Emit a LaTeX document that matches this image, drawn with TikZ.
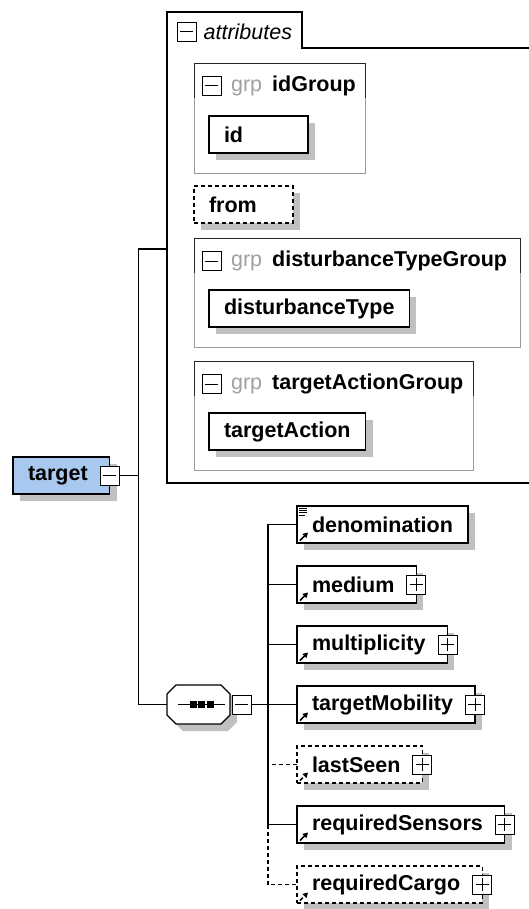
\documentclass[tikz,border=0pt]{standalone}
\usepackage{fontspec}
\setmainfont{Liberation Sans}
\usetikzlibrary{arrows.meta,positioning,calc,shadows}
\definecolor{SchemaBlue}{HTML}{A8C8F0}
\definecolor{SchemaShadow}{HTML}{C0C0C0}
\definecolor{SchemaFrame}{HTML}{9A9A9A}
\definecolor{SchemaGrp}{HTML}{A0A0A0}

\begin{document}
\begin{tikzpicture}[x=1pt,y=-1pt,
  txt/.style={font=\fontsize{21.5}{24}\selectfont,inner sep=0pt},
  conn/.style={draw=black,line width=1.2pt},
  elem/.style={font=\fontsize{21.5}{24}\selectfont\bfseries,draw=black,line width=1.2pt,fill=white,minimum height=37pt,inner xsep=15pt,inner ysep=0pt,outer sep=0pt,anchor=west,
    drop shadow={opacity=1,fill=SchemaShadow,shadow xshift=7pt,shadow yshift=-7pt}},
  optional/.style={dash pattern=on 4pt off 3pt},
  minw/.style={text width=69pt},
  more/.style={execute at end node={\hspace{7pt}}},
  refel/.style={elem,path picture={\draw[line width=1.6pt,-{Triangle[length=5pt,width=5.5pt]}] ([xshift=3pt,yshift=2.5pt]path picture bounding box.south west) -- ++(8pt,8pt);}},
  plusbox/.style={draw=black,line width=0.9pt,fill=white,minimum size=19pt,inner sep=0pt,
    path picture={\draw[line width=0.9pt] ([xshift=3pt]path picture bounding box.west) -- ([xshift=-3pt]path picture bounding box.east) ([yshift=-3pt]path picture bounding box.north) -- ([yshift=3pt]path picture bounding box.south);}},
  minusbox/.style={draw=black,line width=0.9pt,fill=white,minimum size=19pt,inner sep=0pt,
    path picture={\draw[line width=0.9pt] ([xshift=3pt]path picture bounding box.west) -- ([xshift=-3pt]path picture bounding box.east);}},
  grpbox/.style={draw=SchemaFrame,line width=0.9pt,anchor=north west,inner sep=0pt},
  grpedge/.style={draw=black!85,line width=0.9pt},
  grphead/.style={txt,anchor=west}
]
\useasboundingbox (0,0) rectangle (529,909);

% attributes frame
\draw[conn] (535,48) -- (302,48) -- (302,12) -- (167,12) -- (167,483) -- (535,483);
\coordinate (attr-in) at (167,249);
\node[minusbox] (attr-m) at (186.5,31.5) {};
\node[txt,font=\fontsize{21.5}{24}\selectfont\itshape,right=7pt of attr-m] (attr-t) {attributes};

% idGroup
\node[grpbox,minimum width=171pt,minimum height=110pt] (idGrp) at (194,63) {};
\draw[grpedge] ([yshift=-35pt]idGrp.north west) |- (idGrp.north east) -- ([yshift=-35pt]idGrp.north east);
\node[minusbox,anchor=north west] (idGrp-m) at ([xshift=8pt,yshift=-13pt]idGrp.north west) {};
\node[grphead,right=9pt of idGrp-m] (idGrp-t) {\textcolor{SchemaGrp}{grp}\hspace{10pt}\textbf{idGroup}};
\node[elem,minw,anchor=north west] (id) at ([xshift=15pt,yshift=-53pt]idGrp.north west) {id};

\node[elem,minw,optional,anchor=north west] (from) at (194,186) {from};

% disturbanceTypeGroup
\node[grpbox,minimum width=326pt,minimum height=109pt] (distGrp) at (194,238) {};
\draw[grpedge] ([yshift=-35pt]distGrp.north west) |- (distGrp.north east) -- ([yshift=-35pt]distGrp.north east);
\node[minusbox,anchor=north west] (distGrp-m) at ([xshift=8pt,yshift=-13pt]distGrp.north west) {};
\node[grphead,right=9pt of distGrp-m] (distGrp-t) {\textcolor{SchemaGrp}{grp}\hspace{10pt}\textbf{disturbanceTypeGroup}};
\node[elem,anchor=north west] (distType) at ([xshift=15pt,yshift=-52pt]distGrp.north west) {disturbanceType};

% targetActionGroup
\node[grpbox,minimum width=279pt,minimum height=109pt] (actGrp) at (194,361) {};
\draw[grpedge] ([yshift=-35pt]actGrp.north west) |- (actGrp.north east) -- ([yshift=-35pt]actGrp.north east);
\node[minusbox,anchor=north west] (actGrp-m) at ([xshift=8pt,yshift=-13pt]actGrp.north west) {};
\node[grphead,right=9pt of actGrp-m] (actGrp-t) {\textcolor{SchemaGrp}{grp}\hspace{10pt}\textbf{targetActionGroup}};
\node[elem,anchor=north west] (action) at ([xshift=15pt,yshift=-52pt]actGrp.north west) {targetAction};

% root element
\node[elem,more,fill=SchemaBlue] (target) at (13,475.5) {target};
\node[minusbox] (target-m) at (target.east) {};

% sequence
\node[minimum width=63pt,minimum height=39pt,inner sep=0pt,outer sep=0pt] (seq) at (198.5,704.5) {};
\fill[SchemaShadow,transform canvas={xshift=7pt,yshift=-7pt}] ([xshift=9pt]seq.north west) -- ([xshift=-9pt]seq.north east) -- ([yshift=-9pt]seq.north east) -- ([yshift=9pt]seq.south east) -- ([xshift=-9pt]seq.south east) -- ([xshift=9pt]seq.south west) -- ([yshift=9pt]seq.south west) -- ([yshift=-9pt]seq.north west) -- cycle;
\draw[conn,fill=white] ([xshift=9pt]seq.north west) -- ([xshift=-9pt]seq.north east) -- ([yshift=-9pt]seq.north east) -- ([yshift=9pt]seq.south east) -- ([xshift=-9pt]seq.south east) -- ([xshift=9pt]seq.south west) -- ([yshift=9pt]seq.south west) -- ([yshift=-9pt]seq.north west) -- cycle;
\draw[line width=1pt] ([xshift=-20.5pt]seq.center) -- ([xshift=26.5pt]seq.center);
\fill ([xshift=-9pt,yshift=-3.5pt]seq.center) rectangle ++(7pt,7pt);
\fill ([xshift=-0.5pt,yshift=-3.5pt]seq.center) rectangle ++(7pt,7pt);
\fill ([xshift=8pt,yshift=-3.5pt]seq.center) rectangle ++(7pt,7pt);
\node[minusbox,anchor=west] (seq-m) at ([xshift=2pt]seq.east) {};

% children
\node[refel] (denom) at (297,524.5) {denomination};
\node[refel,more,below=23pt of denom.south west,anchor=north west] (medium) {medium};
\node[refel,more,below=23pt of medium.south west,anchor=north west] (multi) {multiplicity};
\node[refel,more,below=23pt of multi.south west,anchor=north west] (mobility) {targetMobility};
\node[refel,more,optional,below=23pt of mobility.south west,anchor=north west] (lastseen) {lastSeen};
\node[refel,more,below=23pt of lastseen.south west,anchor=north west] (sensors) {requiredSensors};
\node[refel,more,optional,below=23pt of sensors.south west,anchor=north west] (cargo) {requiredCargo};
\node[plusbox] (medium-p) at (medium.east) {};
\node[plusbox] (multi-p) at (multi.east) {};
\node[plusbox] (mobility-p) at (mobility.east) {};
\node[plusbox] (lastseen-p) at (lastseen.east) {};
\node[plusbox] (sensors-p) at (sensors.east) {};
\node[plusbox] (cargo-p) at (cargo.east) {};

% simple content mark
\draw[line width=0.8pt] ([xshift=2pt,yshift=-2pt]denom.north west) -- ++(8pt,0pt);
\draw[line width=0.8pt] ([xshift=2pt,yshift=-4.3pt]denom.north west) -- ++(8pt,0pt);
\draw[line width=0.8pt] ([xshift=2pt,yshift=-6.6pt]denom.north west) -- ++(8pt,0pt);
\draw[line width=0.8pt] ([xshift=2pt,yshift=-8.9pt]denom.north west) -- ++(6pt,0pt);

% connectors
\draw[conn] (target-m.east) -- ++(18.5,0) coordinate (split);
\draw[conn] (attr-in) -| (split) |- (seq.west);
\draw[conn] (seq-m.east) -- (mobility.west);
\draw[conn] (denom.west) -- ++(-29,0) |- (sensors.west);
\draw[conn] (medium.west) -- ++(-29,0);
\draw[conn] (multi.west) -- ++(-29,0);
\draw[conn,optional] (lastseen.west) -- ++(-29,0);
\draw[conn,optional] (sensors.west) ++(-29,0) |- (cargo.west);
\end{tikzpicture}
\end{document}
